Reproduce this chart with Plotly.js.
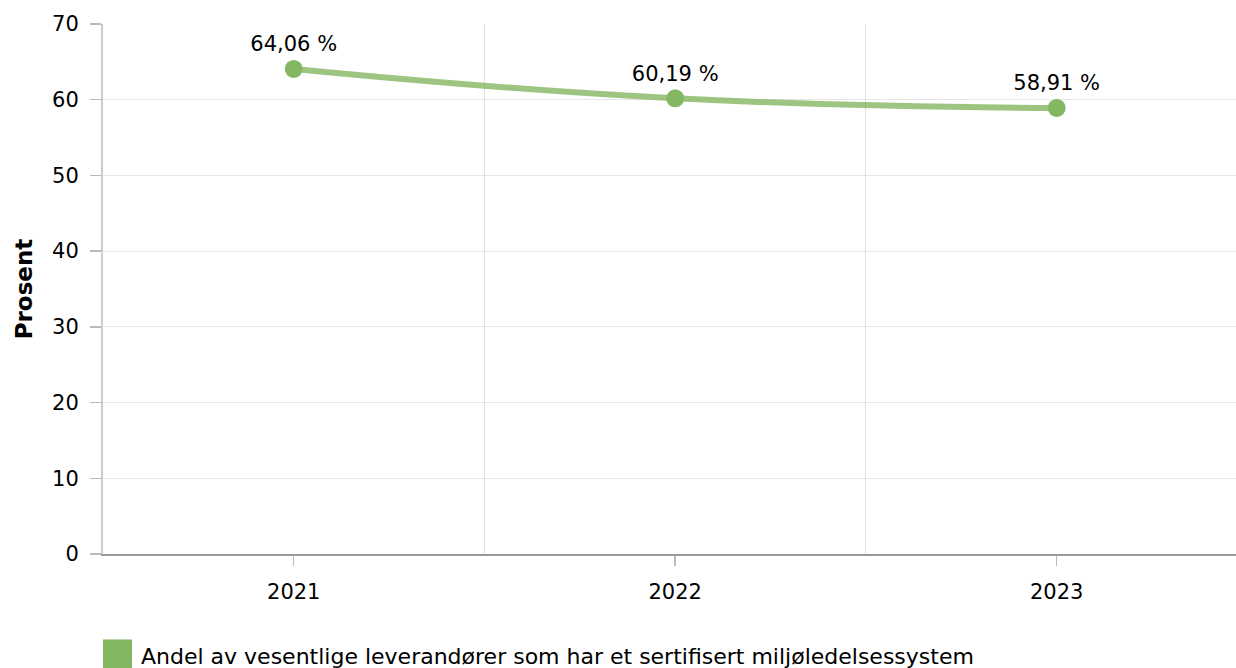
<!DOCTYPE html>
<html>
<head>
<meta charset="utf-8">
<script src="https://cdn.plot.ly/plotly-3.0.1.min.js"></script>
<style>html,body{margin:0;padding:0;background:#fff;}#chart{width:1236px;height:668px;}</style>
</head>
<body>
<div id="chart"></div>
<script>
const categories = ['2021', '2022', '2023'];
const values = [64.06, 60.19, 58.91];
const labels = ['64,06 %', '60,19 %', '58,91 %'];
const seriesName = 'Andel av vesentlige leverandører som har et sertifisert miljøledelsessystem';
const yTicks = [0, 10, 20, 30, 40, 50, 60, 70];

const FONT = 'DejaVu Sans, Verdana, sans-serif';
const xIdx = categories.map((c, i) => i);

const trace = {
  x: xIdx,
  y: values,
  text: labels,
  type: 'scatter',
  mode: 'lines+markers+text',
  textposition: 'top center',
  textfont: {family: FONT, size: 21, color: '#000'},
  line: {color: 'rgba(132,183,97,0.8)', width: 6, shape: 'spline', smoothing: 1.3},
  marker: {color: '#84b761', size: 18},
  cliponaxis: false,
  showlegend: false,
  hoverinfo: 'none'
};

const gridTrace = {
  x: [], y: [], type: 'scatter', xaxis: 'x2', showlegend: false, hoverinfo: 'none'
};

const layout = {
  width: 1236, height: 668,
  margin: {l: 103, r: 0, t: 24, b: 114},
  paper_bgcolor: '#fff', plot_bgcolor: '#fff',
  font: {family: FONT, size: 21, color: '#000'},
  showlegend: false,
  xaxis: {
    range: [-0.5, 2.47],
    tickvals: xIdx,
    ticktext: categories,
    showgrid: false,
    zeroline: false,
    showline: true, linecolor: '#999', linewidth: 1.5,
    ticks: 'outside', ticklen: 10, tickcolor: '#bbb', tickwidth: 1.5,
    ticklabelstandoff: 8,
    tickfont: {family: FONT, size: 21, color: '#000'},
    fixedrange: true
  },
  xaxis2: {
    overlaying: 'x', matches: 'x',
    tickvals: [0.5, 1.5],
    showgrid: true, gridcolor: '#e0e0e0', gridwidth: 1,
    showticklabels: false, ticks: '', zeroline: false, showline: false
  },
  yaxis: {
    range: [0, 70],
    tickvals: yTicks,
    showgrid: true, gridcolor: '#e6e6e6', gridwidth: 1,
    zeroline: false,
    showline: true, linecolor: '#ccc', linewidth: 2,
    ticks: 'outside', ticklen: 11, tickcolor: '#bbb', tickwidth: 1.5,
    ticklabelstandoff: 7,
    tickfont: {family: FONT, size: 21, color: '#000'},
    title: {text: '<b>Prosent</b>', font: {family: FONT, size: 23, color: '#000'}, standoff: 13},
    fixedrange: true
  },
  shapes: [{
    type: 'rect', xref: 'paper', yref: 'paper',
    x0: 0, x1: 0.0256, y0: -0.1613, y1: -0.222,
    fillcolor: '#84b761', line: {width: 0}
  }],
  annotations: [{
    xref: 'paper', yref: 'paper', x: 0.032, y: -0.193,
    xanchor: 'left', yanchor: 'middle', showarrow: false,
    text: seriesName,
    font: {family: FONT, size: 22, color: '#000'}
  }]
};

Plotly.newPlot('chart', [gridTrace, trace], layout, {displayModeBar: false, staticPlot: true});
</script>
</body>
</html>
